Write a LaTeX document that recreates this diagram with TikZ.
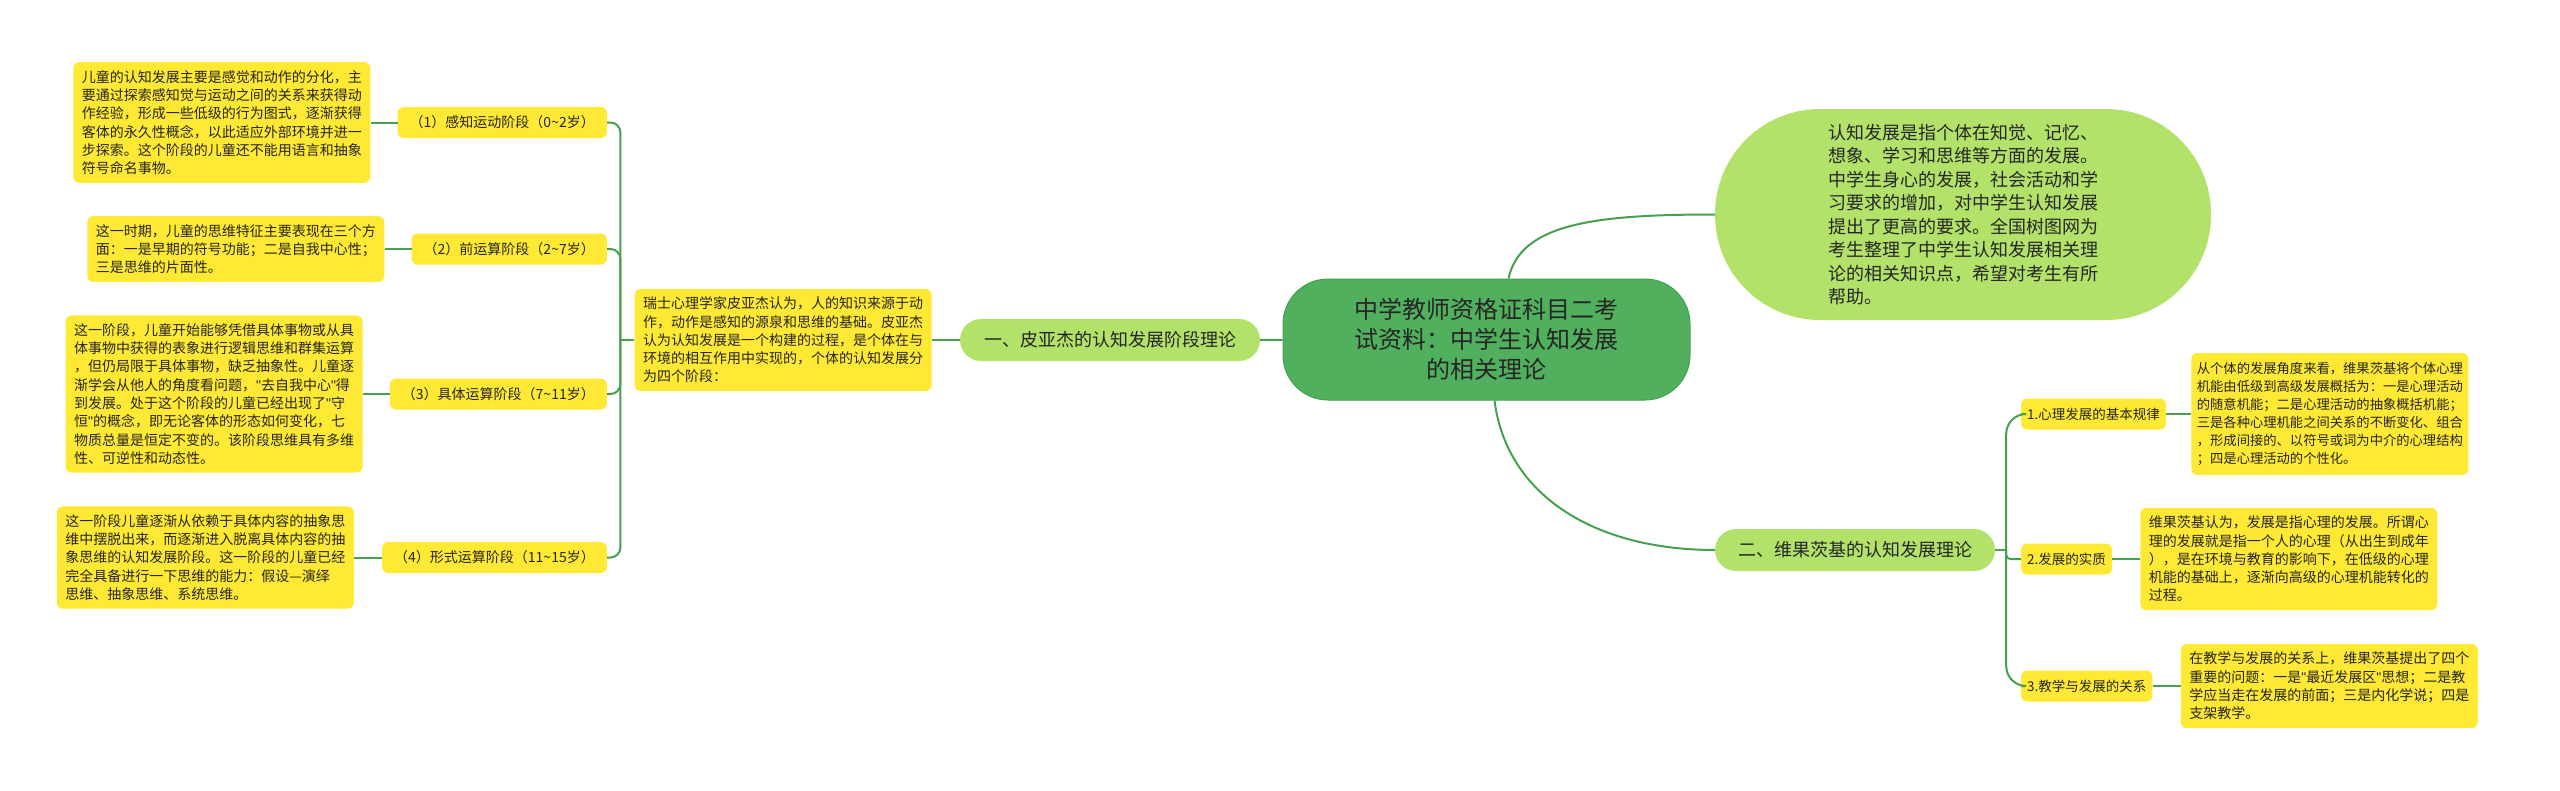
\documentclass[tikz,border=0pt]{standalone}
\usepackage{fontspec}
\setmainfont{Noto Sans CJK SC}
\newfontfamily\quotefont{Liberation Sans}
\newcommand\dq{{\quotefont"}}
\usetikzlibrary{positioning}

\definecolor{noteyellow}{HTML}{FFE935}
\definecolor{topicgreen}{HTML}{B3E26A}
\definecolor{rootgreen}{HTML}{51B05D}
\definecolor{rootedge}{HTML}{43A04F}
\definecolor{linegreen}{HTML}{46A04F}
\definecolor{inkgrey}{HTML}{262626}

\tikzset{
  notebox/.style={fill=noteyellow, rounded corners=6pt, align=left, text=inkgrey,
    inner xsep=8.5pt, inner ysep=8pt, font=\fontsize{14}{18.3}\selectfont},
  smallnote/.style={notebox, inner xsep=5.5pt, inner ysep=9.5pt, font=\fontsize{13.3}{17.9}\selectfont},
  stagebox/.style={fill=noteyellow, rounded corners=6pt, text=inkgrey, minimum height=31pt,
    inner xsep=12pt, inner ysep=2pt, font=\fontsize{14}{17}\selectfont},
  rulebox/.style={stagebox, inner xsep=6pt, font=\fontsize{13.5}{16}\selectfont},
  topicbox/.style={fill=topicgreen, rounded corners=21pt, text=inkgrey, minimum height=42pt,
    inner xsep=8pt, font=\fontsize{18}{22}\selectfont},
  rootbox/.style={fill=rootgreen, draw=rootedge, line width=1pt, rounded corners=45pt, text=inkgrey,
    align=center, minimum width=407pt, minimum height=121pt, font=\fontsize{24}{30}\selectfont},
  introbox/.style={fill=topicgreen, rounded corners=105pt, text=inkgrey, align=left,
    minimum width=496pt, minimum height=211pt, font=\fontsize{18}{23.5}\selectfont},
  branch/.style={draw=linegreen, line width=2pt},
}

\begin{document}
\begin{tikzpicture}[x=1pt, y=-1pt]
\useasboundingbox (0,0) rectangle (2560,790);

% Root and the two theories:
\node[rootbox] (root) at (1486.5,339.5) {中学教师资格证科目二考\\试资料：中学生认知发展\\的相关理论};
\node[topicbox, minimum width=300pt] (piaget) at (1110,340) {一、皮亚杰的认知发展阶段理论};
\node[topicbox, minimum width=280pt] (vygotsky) at (1855,550) {二、维果茨基的认知发展理论};
\node[introbox] (intro) at (1963,214.5) {认知发展是指个体在知觉、记忆、\\想象、学习和思维等方面的发展。\\中学生身心的发展，社会活动和学\\习要求的增加，对中学生认知发展\\提出了更高的要求。全国树图网为\\考生整理了中学生认知发展相关理\\论的相关知识点，希望对考生有所\\帮助。};

\draw[branch] (root) -- (piaget);
\draw[branch] ([xshift=22pt]root.north) .. controls +(12,-55) and +(-120,0) .. (intro.west);
\draw[branch] ([xshift=8pt]root.south) .. controls +(12,95) and +(-120,0) .. (vygotsky.west);

% Piaget: four stages
\node[notebox, left=28pt of piaget] (piagetnote) {瑞士心理学家皮亚杰认为，人的知识来源于动\\作，动作是感知的源泉和思维的基础。皮亚杰\\认为认知发展是一个构建的过程，是个体在与\\环境的相互作用中实现的，个体的认知发展分\\为四个阶段：};
\draw[branch] (piaget) -- (piagetnote);
\coordinate[left=14pt of piagetnote.west] (pjoin);

\node[stagebox, anchor=east] (stage1) at (607,122.5) {（1）感知运动阶段（0\textasciitilde2岁）};
\node[stagebox, anchor=east] (stage2) at (607,249) {（2）前运算阶段（2\textasciitilde7岁）};
\node[stagebox, anchor=east] (stage3) at (607,394) {（3）具体运算阶段（7\textasciitilde11岁）};
\node[stagebox, anchor=east] (stage4) at (607,557.5) {（4）形式运算阶段（11\textasciitilde15岁）};

\draw[branch] (piagetnote.west) -- (pjoin);
\foreach \s in {1,...,4}
  \draw[branch, rounded corners=10pt] (pjoin) |- (stage\s.east);

\node[notebox, left=27pt of stage1] (note1) {儿童的认知发展主要是感觉和动作的分化，主\\要通过探索感知觉与运动之间的关系来获得动\\作经验，形成一些低级的行为图式，逐渐获得\\客体的永久性概念，以此适应外部环境并进一\\步探索。这个阶段的儿童还不能用语言和抽象\\符号命名事物。};
\node[notebox, left=27pt of stage2] (note2) {这一时期，儿童的思维特征主要表现在三个方\\面：一是早期的符号功能；二是自我中心性；\\三是思维的片面性。};
\node[notebox, left=27pt of stage3] (note3) {这一阶段，儿童开始能够凭借具体事物或从具\\体事物中获得的表象进行逻辑思维和群集运算\\，但仍局限于具体事物，缺乏抽象性。儿童逐\\渐学会从他人的角度看问题，\dq 去自我中心\dq 得\\到发展。处于这个阶段的儿童已经出现了\dq 守\\恒\dq 的概念，即无论客体的形态如何变化，七\\物质总量是恒定不变的。该阶段思维具有多维\\性、可逆性和动态性。};
\node[notebox, left=28pt of stage4] (note4) {这一阶段儿童逐渐从依赖于具体内容的抽象思\\维中摆脱出来，而逐渐进入脱离具体内容的抽\\象思维的认知发展阶段。这一阶段的儿童已经\\完全具备进行一下思维的能力：假设—演绎\\思维、抽象思维、系统思维。};

\foreach \s in {1,...,4}
  \draw[branch] (stage\s) -- (note\s);

% Vygotsky: three points
\coordinate[right=11pt of vygotsky.east] (vjoin);
\node[rulebox, anchor=west] (rule1) at (2021,414) {1.心理发展的基本规律};
\node[rulebox, anchor=west] (rule2) at (2021,559) {2.发展的实质};
\node[rulebox, anchor=west] (rule3) at (2021,686) {3.教学与发展的关系};

\draw[branch] (vygotsky.east) -- (vjoin);
\draw[branch, rounded corners=20pt] (vjoin) |- (rule1.west);
\draw[branch, rounded corners=4pt] (vjoin) |- (rule2.west);
\draw[branch, rounded corners=20pt] (vjoin) |- (rule3.west);

\node[smallnote, right=25pt of rule1] (ruleA) {从个体的发展角度来看，维果茨基将个体心理\\机能由低级到高级发展概括为：一是心理活动\\的随意机能；二是心理活动的抽象概括机能；\\三是各种心理机能之间关系的不断变化、组合\\，形成间接的、以符号或词为中介的心理结构\\；四是心理活动的个性化。};
\node[notebox, right=28pt of rule2] (ruleB) {维果茨基认为，发展是指心理的发展。所谓心\\理的发展就是指一个人的心理（从出生到成年\\），是在环境与教育的影响下，在低级的心理\\机能的基础上，逐渐向高级的心理机能转化的\\过程。};
\node[notebox, right=28pt of rule3] (ruleC) {在教学与发展的关系上，维果茨基提出了四个\\重要的问题：一是\dq 最近发展区\dq 思想；二是教\\学应当走在发展的前面；三是内化学说；四是\\支架教学。};

\draw[branch] (rule1) -- (ruleA);
\draw[branch] (rule2) -- (ruleB);
\draw[branch] (rule3) -- (ruleC);
\end{tikzpicture}
\end{document}
